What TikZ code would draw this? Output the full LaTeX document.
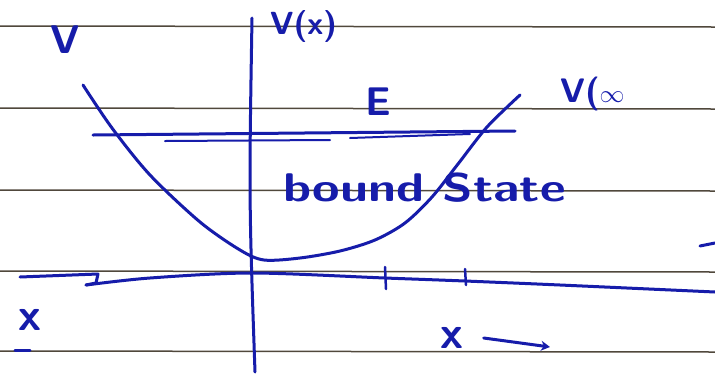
\documentclass[tikz,border=0pt]{standalone}
\usetikzlibrary{arrows.meta}
\definecolor{inkblue}{RGB}{22,28,170}
\definecolor{rulegray}{RGB}{80,72,60}
\begin{document}
\begin{tikzpicture}[x=1pt,y=-1pt,
  ink/.style={draw=inkblue, line width=3pt, line cap=round, line join=round},
  thinink/.style={draw=inkblue, line width=2pt, line cap=round},
  rule/.style={draw=rulegray, line width=1.5pt},
  lbl/.style={text=inkblue, font=\sffamily\bfseries\fontsize{40}{42}\selectfont, inner sep=0pt}]
\fill[white] (0,0) rectangle (715,376);
\useasboundingbox (0,0) rectangle (715,376);
% ruled paper lines
\foreach \y in {26,108,190,271,351} \draw[rule] (0,\y) -- (715,\y+1);
% vertical axis
\coordinate (ytop) at (252,18);
\coordinate (ybot) at (255,372);
\draw[ink] (ytop) .. controls (249,200) .. (ybot);
% horizontal axis
\coordinate (xl) at (20,277);
\coordinate (xr) at (715,292);
\draw[ink] (xl) -- (98,274) -- (96,283) -- (86,285);
\draw[ink] plot[smooth] coordinates {(86,285) (150,278) (252,273) (385,278) (465,281) (560,285) (xr)};
\draw[ink,line width=2.5pt] (385,267) -- (386,289);
\draw[ink,line width=2.5pt] (465,269) -- (466,285);
% potential curve
\draw[ink] plot[smooth] coordinates {(83,85) (112,128) (150,175) (200,222) (240,250) (264,260) (300,258) (340,251) (375,240) (405,223) (432,197) (458,164) (487,127) (520,95)};
% energy level
\coordinate (el) at (93,135);
\coordinate (er) at (515,131);
\draw[ink] (el) -- (er);
\draw[thinink] (165,141) -- (330,140);
\draw[thinink] (350,138) -- (470,134);
% labels
\node[lbl] (V) at (65,40) {V};
\node[lbl, anchor=west, font=\sffamily\bfseries\fontsize{32}{34}\selectfont] (Vx) at (270,26) {V(x)};
\node[lbl] (E) at (378,102) {E};
\node[lbl, anchor=west, font=\sffamily\bfseries\fontsize{34}{36}\selectfont] (Vinf) at (560,94) {V($\infty$};
\node[lbl, anchor=west] (bs) at (283,188) {\scalebox{1.25}[1]{bound State}};
\node[lbl, font=\sffamily\bfseries\fontsize{46}{48}\selectfont] (xa) at (30,320) {x};
\draw[ink] (15,350) -- (30,350);
\node[lbl, font=\sffamily\bfseries\fontsize{46}{48}\selectfont] (xb) at (452,338) {x};
\coordinate (arrowend) at (550,347);
\draw[ink,-{Stealth[length=9pt,width=10pt]}] ([xshift=20pt]xb.east) -- (arrowend);
\draw[ink] (700,246) -- (715,243);
\end{tikzpicture}
\end{document}
